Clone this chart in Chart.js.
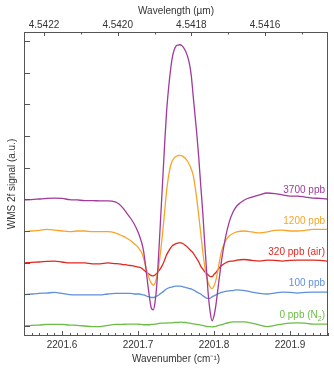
<!DOCTYPE html>
<html><head><meta charset="utf-8">
<script src="https://cdn.jsdelivr.net/npm/chart.js@4.4.1/dist/chart.umd.min.js"></script>
<style>html,body{margin:0;padding:0;background:#fff}canvas{display:block}</style>
</head><body>
<canvas id="c" width="334" height="370"></canvas>
<script>
// Wavenumber samples (cm^-1)
const wavenumber = [
  2201.55,2201.56,2201.57,2201.58,2201.59,2201.60,2201.61,2201.62,2201.63,2201.64,2201.65,2201.66,2201.67,
  2201.675,2201.68,2201.685,2201.69,2201.695,2201.70,
  2201.7025,2201.705,2201.7075,2201.71,2201.7125,2201.715,2201.7175,2201.72,2201.7225,2201.725,
  2201.7275,2201.73,2201.7325,2201.735,2201.7375,2201.74,2201.7425,2201.745,2201.7475,2201.75,
  2201.7525,2201.755,2201.7575,2201.76,2201.7625,2201.765,2201.7675,2201.77,2201.7725,2201.775,
  2201.7775,2201.78,2201.7825,2201.785,2201.7875,2201.79,2201.7925,2201.795,2201.7975,2201.80,
  2201.8025,2201.805,2201.8075,
  2201.81,2201.815,2201.82,2201.825,2201.83,
  2201.84,2201.85,2201.86,2201.87,2201.88,2201.89,2201.90,2201.91,2201.92,2201.93,2201.94,2201.95
];
// WMS 2f signal (a.u., traces offset by 1 unit each)
const ppb3700 = [
  3.98,3.99,4.01,4.03,4.04,4.03,3.99,3.98,3.96,3.96,3.95,3.95,3.92,
  3.85,3.73,3.57,3.41,3.22,2.97,
  2.81,2.62,2.34,1.89,1.39,0.92,0.57,0.51,0.76,1.39,
  2.40,3.50,4.61,5.72,6.73,7.45,8.02,8.46,8.71,8.84,
  8.87,8.88,8.86,8.79,8.68,8.53,8.30,7.93,7.29,6.66,
  6.03,5.30,4.45,3.66,2.72,1.83,0.98,0.44,0.16,0.32,
  0.66,1.14,1.61,
  2.08,2.78,3.28,3.60,3.79,
  3.98,4.07,4.14,4.20,4.18,4.14,4.10,4.10,4.07,4.04,4.03,4.01
];
const ppb1200 = [
  2.98,3.00,3.02,3.05,3.03,3.00,2.98,3.00,3.00,2.98,2.98,2.98,2.94,
  2.89,2.84,2.78,2.70,2.60,2.49,
  2.40,2.31,2.12,1.89,1.67,1.48,1.36,1.28,1.36,1.58,
  1.93,2.40,2.97,3.60,4.23,4.70,5.02,5.21,5.30,5.35,
  5.38,5.39,5.38,5.34,5.29,5.21,5.10,4.96,4.77,4.42,
  3.98,3.47,2.94,2.40,1.93,1.58,1.36,1.23,1.18,1.26,
  1.45,1.74,2.08,
  2.37,2.68,2.84,2.92,2.97,
  3.00,2.97,2.94,2.97,3.02,3.03,3.00,3.00,3.02,3.05,3.05,3.05
];
const ppb320air = [
  1.99,2.01,2.02,2.04,2.05,2.02,1.99,1.99,1.99,1.96,1.96,1.99,1.97,
  1.96,1.94,1.93,1.91,1.89,1.86,
  1.85,1.82,1.77,1.72,1.67,1.63,1.59,1.58,1.61,1.67,
  1.75,1.83,1.94,2.08,2.24,2.35,2.45,2.53,2.57,2.60,
  2.62,2.63,2.62,2.59,2.54,2.49,2.43,2.37,2.31,2.21,
  2.12,2.02,1.89,1.80,1.72,1.66,1.61,1.56,1.56,1.63,
  1.69,1.77,1.85,
  1.91,1.99,2.04,2.05,2.08,
  2.10,2.07,2.05,2.08,2.07,2.05,2.07,2.08,2.08,2.08,2.07,2.05
];
const ppb100 = [
  0.99,1.01,1.03,1.04,1.06,1.03,0.99,0.98,0.98,0.98,0.98,1.01,1.03,
  1.03,1.03,1.03,1.03,1.01,1.01,
  1.01,0.99,0.98,0.96,0.93,0.92,0.90,0.90,0.92,0.95,
  0.98,1.03,1.07,1.12,1.17,1.20,1.22,1.23,1.25,1.26,
  1.26,1.26,1.25,1.23,1.22,1.20,1.18,1.17,1.14,1.11,
  1.07,1.04,1.01,0.96,0.92,0.88,0.87,0.88,0.92,0.95,
  0.98,1.01,1.04,
  1.06,1.09,1.11,1.12,1.14,
  1.12,1.07,1.03,1.01,1.04,1.07,1.06,1.04,1.06,1.07,1.07,1.07
];
const ppb0N2 = [
  0.00,0.02,0.03,0.05,0.05,0.05,0.03,0.02,0.00,-0.02,-0.02,0.02,0.05,
  0.05,0.05,0.06,0.06,0.06,0.06,
  0.05,0.05,0.04,0.04,0.04,0.04,0.05,0.05,0.06,0.07,
  0.08,0.09,0.09,0.09,0.09,0.10,0.10,0.10,0.11,0.11,
  0.11,0.12,0.12,0.11,0.11,0.10,0.09,0.08,0.07,0.06,
  0.05,0.04,0.03,0.02,0.00,-0.01,-0.02,-0.02,-0.03,-0.02,
  -0.01,0.01,0.03,
  0.04,0.08,0.11,0.13,0.13,
  0.13,0.09,0.03,-0.02,0.02,0.06,0.09,0.10,0.09,0.06,0.06,0.06
];
const seriesValues = [ppb3700, ppb1200, ppb320air, ppb100, ppb0N2];
const seriesNames = ['3700 ppb', '1200 ppb', '320 ppb (air)', '100 ppb', '0 ppb (N\u2082)'];
const seriesColors = ['#a03a9c', '#f7a52a', '#e1271f', '#5f90d8', '#6cbd45'];

const bottomTickValues = [2201.6, 2201.7, 2201.8, 2201.9];
const topTickValues = [4.5422, 4.5420, 4.5418, 4.5416];
const leftTickValues = [0,1,2,3,4,5,6,7,8,9];

const X_MIN = 2201.55, X_MAX = 2201.95;
const AXIS_COLOR = '#555';
const TEXT_COLOR = '#333';
const FONT = 'Liberation Sans, Arial, Helvetica, sans-serif';

const frame = {
  id: 'frame',
  afterDatasetsDraw(chart) {
    const ctx = chart.ctx, a = chart.chartArea;
    ctx.save();
    ctx.strokeStyle = AXIS_COLOR;
    ctx.lineWidth = 1;
    const line = (x1, y1, x2, y2) => { ctx.beginPath(); ctx.moveTo(x1, y1); ctx.lineTo(x2, y2); ctx.stroke(); };
    ctx.strokeRect(a.left + 0.5, a.top + 0.5, a.right - a.left - 1, a.bottom - a.top - 1);
    // bottom: minor every 0.01, major every 0.1 (inward)
    const xs = chart.scales.x;
    for (let k = Math.ceil(X_MIN * 100 - 1e-6); k <= Math.floor(X_MAX * 100 + 1e-6); k++) {
      const px = Math.round(xs.getPixelForValue(k / 100)) + 0.5;
      const len = (k % 10 === 0) ? 5 : 3;
      line(px, a.bottom, px, a.bottom - len);
    }
    // top: wavelength minor 0.0001, major 0.0002
    const xt = chart.scales.x2;
    for (let k = Math.ceil(xt.min * 1e4 - 1e-6); k <= Math.floor(xt.max * 1e4 + 1e-6); k++) {
      const px = Math.round(xt.getPixelForValue(k / 1e4)) + 0.5;
      const len = (k % 2 === 0) ? 4 : 2.5;
      line(px, a.top, px, a.top + len);
    }
    // left ticks
    const ys = chart.scales.y;
    leftTickValues.forEach(v => {
      const py = Math.round(ys.getPixelForValue(v)) + 0.5;
      line(a.left, py, a.left + 6, py);
    });
    ctx.restore();

    // series labels at right end
    ctx.save();
    ctx.font = '10px ' + FONT;
    ctx.textBaseline = 'middle';
    const xr = a.right - 3;
    chart.data.datasets.forEach((ds, i) => {
      const meta = chart.getDatasetMeta(i);
      const last = meta.data[meta.data.length - 1];
      const y = last.y - 8.5;
      ctx.fillStyle = ds.borderColor;
      const name = seriesNames[i];
      if (name.indexOf('\u2082') >= 0) {
        const pre = name.split('\u2082')[0];
        const post = name.split('\u2082')[1];
        ctx.font = '10px ' + FONT;
        const w1 = ctx.measureText(pre).width;
        const w3 = ctx.measureText(post).width;
        ctx.font = '7px ' + FONT;
        const w2 = ctx.measureText('2').width;
        let x = xr - (w1 + w2 + w3);
        ctx.textAlign = 'left';
        ctx.font = '10px ' + FONT;
        ctx.fillText(pre, x, y);
        ctx.font = '7px ' + FONT;
        ctx.fillText('2', x + w1, y + 3);
        ctx.font = '10px ' + FONT;
        ctx.fillText(post, x + w1 + w2, y);
      } else {
        ctx.textAlign = 'right';
        ctx.fillText(name, xr, y);
      }
    });
    ctx.restore();
  }
};

new Chart(document.getElementById('c'), {
  type: 'line',
  data: {
    datasets: seriesValues.map((vals, i) => ({
      label: seriesNames[i],
      data: wavenumber.map((w, j) => ({ x: w, y: vals[j] })),
      borderColor: seriesColors[i],
      borderWidth: 1.3,
      pointRadius: 0,
      cubicInterpolationMode: 'monotone',
      fill: false,
      xAxisID: 'x',
      yAxisID: 'y'
    }))
  },
  options: {
    responsive: false,
    animation: false,
    devicePixelRatio: 1,
    layout: { padding: { left: 0, right: 6, top: 0, bottom: 0 } },
    plugins: { legend: { display: false }, tooltip: { enabled: false } },
    scales: {
      x: {
        type: 'linear', position: 'bottom', min: X_MIN, max: X_MAX,
        grid: { display: false, drawTicks: false },
        border: { display: false },
        afterBuildTicks: s => { s.ticks = bottomTickValues.map(v => ({ value: v })); },
        afterFit: s => { s.height = 34; },
        ticks: { padding: 3, color: TEXT_COLOR, font: { size: 10, family: FONT }, maxRotation: 0, autoSkip: false,
                 callback: v => Number(v).toFixed(1) },
        title: { display: true, text: 'Wavenumber (cm\u207B\u00B9)', color: TEXT_COLOR,
                 font: { size: 10, family: FONT }, padding: { top: 0, bottom: 5 } }
      },
      x2: {
        type: 'linear', position: 'top', reverse: true,
        min: 1e4 / X_MAX, max: 1e4 / X_MIN,
        grid: { display: false, drawTicks: false },
        border: { display: false },
        afterBuildTicks: s => { s.ticks = topTickValues.map(v => ({ value: v })); },
        afterFit: s => { s.height = 32; },
        ticks: { padding: 1, color: TEXT_COLOR, font: { size: 10, family: FONT }, maxRotation: 0, autoSkip: false,
                 callback: v => Number(v).toFixed(4) },
        title: { display: true, text: 'Wavelength (\u00B5m)', color: TEXT_COLOR,
                 font: { size: 10, family: FONT }, padding: { top: 5, bottom: 0 } }
      },
      y: {
        type: 'linear', position: 'left', min: -0.316, max: 9.283,
        grid: { display: false, drawTicks: false },
        border: { display: false },
        ticks: { display: false },
        afterFit: s => { s.width = 24; },
        title: { display: true, text: 'WMS 2f signal (a.u.)', color: TEXT_COLOR,
                 font: { size: 10, family: FONT }, padding: { top: 6, bottom: 0 } }
      }
    }
  },
  plugins: [frame]
});
</script>
</body></html>
